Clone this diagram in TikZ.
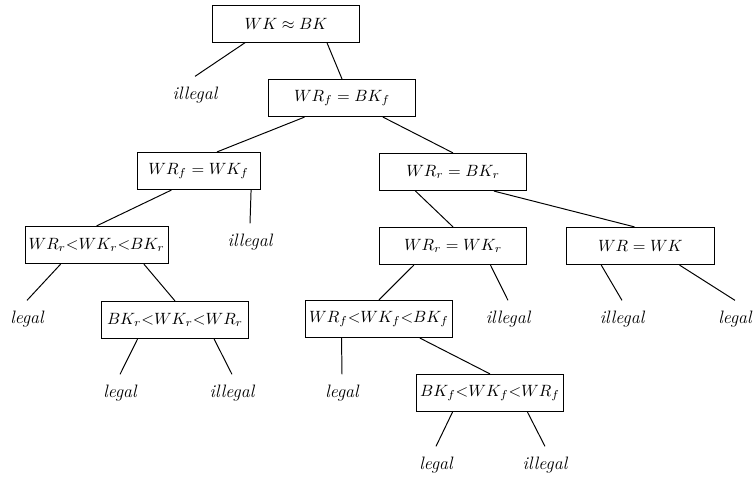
\documentclass[tikz,border=0pt]{standalone}
\usepackage{amsmath}
\usepackage{amssymb}
\usepackage{tikz}
\tikzset{every picture/.style={line width=0.6pt}}
\tikzset{cond/.style={draw,rectangle,minimum width=3.18cm,minimum height=0.8cm,inner sep=1pt},
	verdict/.style={inner sep=0pt,minimum height=0.78cm,text height=1.5ex,text depth=0.25ex,font=\fontsize{11}{13}\selectfont\itshape}}

\begin{document}
\begin{tikzpicture}[x=0.43cm,y=0.43cm]
\useasboundingbox (0,0) rectangle (37.7,-24);
\node[cond] (1) at (14.3,-1.18) {$WK \approx BK$};
\node[cond] (2) at (17.1,-4.9) {$WR_f = BK_f$};
\node[cond,minimum width=2.64cm] (3) at (9.93,-8.55) {$WR_f = WK_f$};
\node[cond] (4) at (22.65,-8.6) {$WR_r = BK_r$};
\node[cond,minimum width=3.07cm] (5) at (4.83,-12.25) {$WR_r{<}WK_r{<}BK_r$};
\node[cond] (6) at (8.75,-16) {$BK_r{<}WK_r{<}WR_r$};
\node[cond] (7) at (22.65,-12.3) {$WR_r = WK_r$};
\node[cond] (8) at (32.02,-12.3) {$WR = WK$};
\node[cond] (9) at (18.95,-15.95) {$WR_f{<}WK_f{<}BK_f$};
\node[cond] (10) at (24.5,-19.65) {$BK_f{<}WK_f{<}WR_f$};
%
\node[verdict] (01) at (9.75,-4.75) {illegal};
\node[verdict] (02) at (12.5,-12.1) {illegal};
\node[verdict] (03) at (1.35,-15.95) {legal};
\node[verdict] (04) at (25.4,-15.95) {illegal};
\node[verdict] (05) at (31.1,-15.95) {illegal};
\node[verdict] (06) at (36.75,-15.95) {legal};
\node[verdict] (07) at (6,-19.65) {legal};
\node[verdict] (08) at (11.6,-19.65) {illegal};
\node[verdict] (09) at (17.1,-19.65) {legal};
\node[verdict] (010) at (21.8,-23.25) {legal};
\node[verdict] (011) at (27.25,-23.25) {illegal};
%
\foreach \Source/\Target in {%
	1.205/01.north,
	1.335/2.north,
	2.207/3.46,
	2.335/4.north,
	3.215/5.north,
	3.340/02.north,
	5.208/03.north,
	5.338/6.north,
	6.207/07.north,
	6.334/08.north,
	4.207/7.north,
	4.335/8.107,
	7.206/9.north,
	7.333/04.north,
	8.206/05.north,
	8.334/06.north,
	9.207/09.north,
	9.335/10.north,
	10.207/010.north,
	10.333/011.north%
    }
\draw (\Source) to (\Target);
\end{tikzpicture}
\end{document}
